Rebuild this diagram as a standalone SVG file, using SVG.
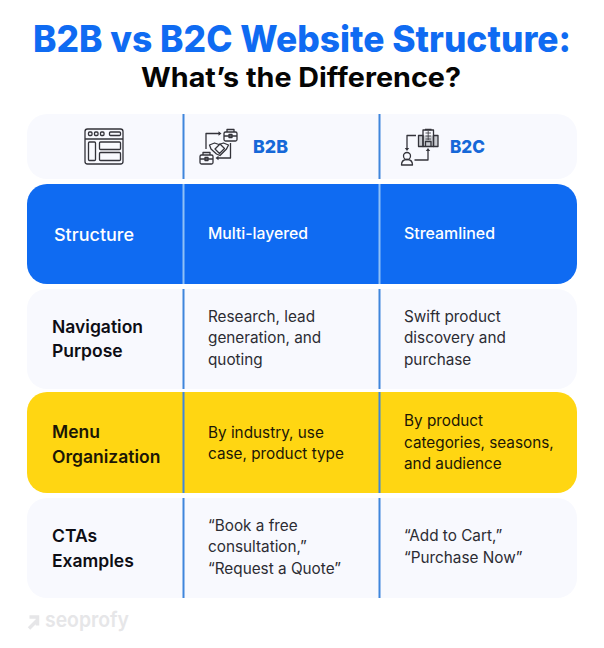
<svg xmlns="http://www.w3.org/2000/svg" width="604" height="648" viewBox="0 0 604 648">
<style>
text{font-family:Inter,"Liberation Sans",sans-serif}
.t{font-size:36.5px;font-weight:800;fill:#0f6bf2}
.t2{font-size:26.500px;font-weight:700;fill:#050505}
.h{font-size:17.500px;font-weight:800;fill:#1668d8}
.b{font-size:15.300px;font-weight:400;fill:#2c2c33}
.l{font-size:17.500px;font-weight:600;fill:#0d0d14}
.w{fill:#fff}
.k{fill:#1b1606}
.i{fill:none;stroke:#33333a;stroke-width:1.300;stroke-linejoin:round}
.n{fill:none;stroke:#33333a;stroke-width:.8}
.div{stroke:#3f86dc;stroke-width:2}
.a{fill:#33333a}
</style>
<rect width="604" height="648" fill="#fff"/>
<g id="title">
<text class="t" x="302" y="52" text-anchor="middle" textLength="538" lengthAdjust="spacingAndGlyphs">B2B vs B2C Website Structure:</text>
<text class="t2" x="301" y="87" text-anchor="middle" textLength="320" lengthAdjust="spacingAndGlyphs">What’s the Difference?</text>
</g>
<g id="rows">
<rect id="row-header" x="27" y="114" width="550" height="65" rx="20" fill="#f8f9fe"/>
<rect id="row-structure" x="27" y="184" width="550" height="100" rx="20" fill="#0f6bf2"/>
<rect id="row-navigation" x="27" y="289" width="550" height="100" rx="20" fill="#f8f9fe"/>
<rect id="row-menu" x="27" y="392" width="550" height="101" rx="20" fill="#ffd612"/>
<rect id="row-cta" x="27" y="498" width="550" height="100" rx="20" fill="#f8f9fe"/>
</g>
<g id="connectors">
<path class="div" d="M183.500 114V179M379.500 114V179M183.500 289V389M379.500 289V389M183.500 392V493M379.500 392V493M183.500 498V598M379.500 498V598"/>
<path d="M183.500 184V284M379.500 184V284" stroke="#8fc0f5" stroke-width="2"/>
</g>
<g id="icon-layout">
<rect class="i" x="85" y="129" width="38" height="35" rx="2.500"/>
<path class="i" d="M85 139H123"/>
<rect class="i" x="88.500" y="132" width="3.500" height="3.500" rx="1"/>
<rect class="i" x="94.500" y="132" width="3.500" height="3.500" rx="1"/>
<rect class="i" x="100.500" y="132" width="3.500" height="3.500" rx="1"/>
<rect class="i" x="109.500" y="132" width="11" height="3.500" rx="1"/>
<rect class="i" x="88.500" y="142" width="7" height="18.500" rx="1"/>
<rect class="i" x="99.500" y="142" width="21" height="7.500" rx="1"/>
<rect class="i" x="99.500" y="152.500" width="21" height="8" rx="1"/>
</g>
<g id="icon-b2b">
<rect class="i" x="224" y="132" width="13" height="9" rx="1.500"/>
<path class="i" d="M227 132V129.500H234V132M224 136H237"/>
<rect class="i" x="229" y="134.500" width="3" height="3"/>
<rect class="i" x="200" y="155" width="13" height="9" rx="1.500"/>
<path class="i" d="M203 155V152.500H210V155M200 159H213"/>
<rect class="i" x="205" y="157.500" width="3" height="3"/>
<path class="i" d="M206 149V133.500H220M230.500 143V158H218"/>
<path class="a" d="M221.500 133.500l-3-2.200v4.400zM215.500 158l3-2.200v4.400z"/>
<path class="i" d="M209.500 145l5-2 4.500 1.500 4.500-1.500 5 2-2 4-6.500 6.500-3.500-1.500-5.500-5z"/>
<path class="i" d="M215 149l5-5 4.500 4.500-5 5z"/>
</g>
<g id="icon-b2c">
<rect x="418.500" y="135.500" width="19.500" height="11" fill="#c9cbd0"/>
<rect class="i" x="423" y="130" width="10.500" height="16.500" fill="#d4d6da"/>
<rect class="i" x="418.500" y="135.500" width="4.500" height="11"/>
<rect class="i" x="433.500" y="135.500" width="4.500" height="11"/>
<path class="i" d="M425.500 146.500V141.500H431V146.500M425 129.500H431.500"/>
<path class="n" d="M425.500 133H431M425.500 136H431M425.500 139H431M428.200 131V140"/>
<path class="i" d="M416 135.500H407V148M414.500 160H428V150"/>
<path class="a" d="M407 151l-2.200-3h4.400zM428 148l-2.200 3h4.400z"/>
<circle class="i" cx="407" cy="156" r="3.500"/>
<path class="i" d="M401.500 165c0-4 2.500-5.500 5.500-5.500s5.500 1.500 5.500 5.500z"/>
</g>
<g id="cell-b2b-head"><text class="h" x="253" y="153" textLength="35" lengthAdjust="spacingAndGlyphs">B2B</text></g>
<g id="cell-b2c-head"><text class="h" x="450" y="153" textLength="35" lengthAdjust="spacingAndGlyphs">B2C</text></g>
<g id="cell-structure">
<text class="l w" style="font-weight:500" x="54" y="241" textLength="80" lengthAdjust="spacingAndGlyphs">Structure</text>
<text class="b w" style="font-weight:500" x="208" y="239" textLength="100" lengthAdjust="spacingAndGlyphs">Multi-layered</text>
<text class="b w" style="font-weight:500" x="404" y="239" textLength="91" lengthAdjust="spacingAndGlyphs">Streamlined</text>
</g>
<g id="cell-navigation">
<text class="l" x="52" y="332.500">Navigation</text>
<text class="l" x="52" y="357">Purpose</text>
<text class="b" x="208" y="322">Research, lead</text>
<text class="b" x="208" y="343">generation, and</text>
<text class="b" x="208" y="365">quoting</text>
<text class="b" x="404" y="322">Swift product</text>
<text class="b" x="404" y="343">discovery and</text>
<text class="b" x="404" y="365">purchase</text>
</g>
<g id="cell-menu">
<text class="l k" x="52" y="437.500">Menu</text>
<text class="l k" x="52" y="462.500">Organization</text>
<text class="b k" x="208" y="438">By industry, use</text>
<text class="b k" x="208" y="459">case, product type</text>
<text class="b k" x="404" y="426">By product</text>
<text class="b k" x="404" y="448">categories, seasons,</text>
<text class="b k" x="404" y="469">and audience</text>
</g>
<g id="cell-cta">
<text class="l" x="52" y="541.500">CTAs</text>
<text class="l" x="52" y="566.500">Examples</text>
<text class="b" x="208" y="531">“Book a free</text>
<text class="b" x="208" y="552">consultation,”</text>
<text class="b" x="208" y="574">“Request a Quote”</text>
<text class="b" x="404" y="541">“Add to Cart,”</text>
<text class="b" x="404" y="563">“Purchase Now”</text>
</g>
<g id="logo">
<path d="M29 628.500L37 620.500M29.500 617H37.500V625.500" fill="none" stroke="#e6e6e8" stroke-width="3.500"/>
<text x="45" y="627" font-size="21" font-weight="600" fill="#e6e6e8" textLength="84" lengthAdjust="spacingAndGlyphs">seoprofy</text>
</g>
</svg>
